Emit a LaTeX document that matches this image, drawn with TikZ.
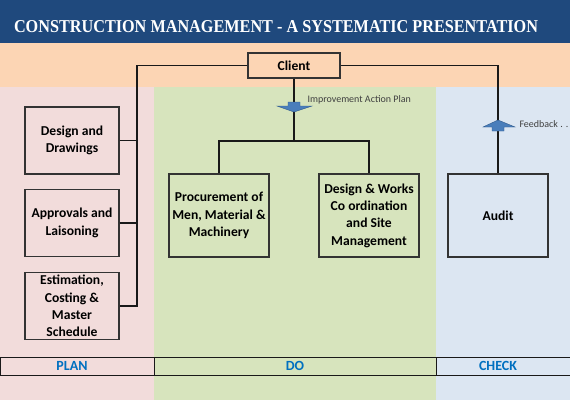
\documentclass[tikz,border=0pt]{standalone}
\usepackage{fontspec}
\setmainfont{Carlito}
\newfontfamily\titrefont{Liberation Serif}
\usepackage{tikz}

\definecolor{titrebleu}{RGB}{31,73,125}
\definecolor{peche}{RGB}{252,213,180}
\definecolor{rose}{RGB}{242,220,219}
\definecolor{vert}{RGB}{215,228,189}
\definecolor{bleuclair}{RGB}{220,230,242}
\definecolor{textebleu}{RGB}{0,112,192}
\definecolor{flechebleu}{RGB}{74,126,187}
\definecolor{flechebord}{RGB}{47,90,140}

\tikzset{
  boite/.style={draw=black!80, line width=1.2pt, align=center, inner sep=0pt,
    font=\bfseries\fontsize{13.6}{17.3}\selectfont},
  lien/.style={draw=black!90, line width=1.1pt},
  phase/.style={text=textebleu, font=\bfseries\fontsize{14}{14}\selectfont},
  note/.style={text=black!75, font=\fontsize{10}{12}\selectfont, anchor=west},
  fleche/.style={fill=flechebleu, draw=flechebord, line width=0.4pt}
}

\begin{document}
\begin{tikzpicture}[x=1pt, y=-1pt]
    \useasboundingbox (0, 0) rectangle (570, 400);
    % fonds
    \fill[titrebleu] (0, 0) rectangle (570, 43);
    \fill[peche] (0, 43) rectangle (570, 87);
    \fill[rose] (0, 87) rectangle (154, 400);
    \fill[vert] (154, 87) rectangle (436, 400);
    \fill[bleuclair] (436, 87) rectangle (570, 400);

    % titre
    \node[text=white, anchor=base, inner sep=0pt, font=\titrefont\bfseries\fontsize{18}{18}\selectfont]
      (titre) at (276, 32) {\resizebox{524pt}{12pt}{CONSTRUCTION MANAGEMENT - A SYSTEMATIC PRESENTATION}};

    % boites
    \node[boite, minimum width=92, minimum height=25] (client) at (294, 65.5) {Client};
    \node[boite, minimum width=94, minimum height=67] (design) at (72, 140.5) {Design and\\Drawings};
    \node[boite, minimum width=94, minimum height=67] (approv) at (72, 223) {Approvals and\\Laisoning};
    \node[boite, minimum width=94, minimum height=67] (estim) at (72, 306) {Estimation,\\Costing \&\\Master\\Schedule};
    \node[boite, minimum width=100, minimum height=83] (procure) at (219, 215.5) {Procurement of\\Men, Material \&\\Machinery};
    \node[boite, minimum width=100, minimum height=83] (travaux) at (369, 215.5) {Design \& Works\\Co ordination\\and Site\\Management};
    \node[boite, minimum width=100, minimum height=83] (audit) at (498, 215.5) {Audit};

    % liens
    \coordinate (coude) at (137, 306);
    \coordinate (branche) at (294, 141);
    \draw[lien] (client.west) -| (coude) -- (estim.east);
    \draw[lien] (design.east) -- (design.east -| coude);
    \draw[lien] (approv.east) -- (approv.east -| coude);
    \draw[lien] (client.east) -| (audit.north);
    \draw[lien] (client.south) -- (branche);
    \draw[lien] (procure.north) |- (branche) -| (travaux.north);

    % fleches
    \draw[fleche] (288, 102) -- (300, 102) -- (300, 106) -- (312, 106) -- (294, 112)
      -- (277, 106) -- (288, 106) -- cycle;
    \draw[fleche] (492, 131) -- (504, 131) -- (504, 127) -- (515, 127) -- (498, 120)
      -- (483, 127) -- (492, 127) -- cycle;
    \node[note] (plan action) at (304, 100) {Improvement Action Plan};
    \node[note] (retour) at (516, 124.5) {Feedback . .};

    % bandeau du bas
    \draw[lien, line width=1pt] (0, 357) rectangle (154, 375);
    \draw[lien, line width=1pt] (154, 357) rectangle (436, 375);
    \draw[lien, line width=1pt] (436, 357) rectangle (570, 375);
    \node[phase] (plan) at (72, 366) {PLAN};
    \node[phase] (do) at (295, 366) {DO};
    \node[phase] (check) at (498, 366) {CHECK};
\end{tikzpicture}
\end{document}
